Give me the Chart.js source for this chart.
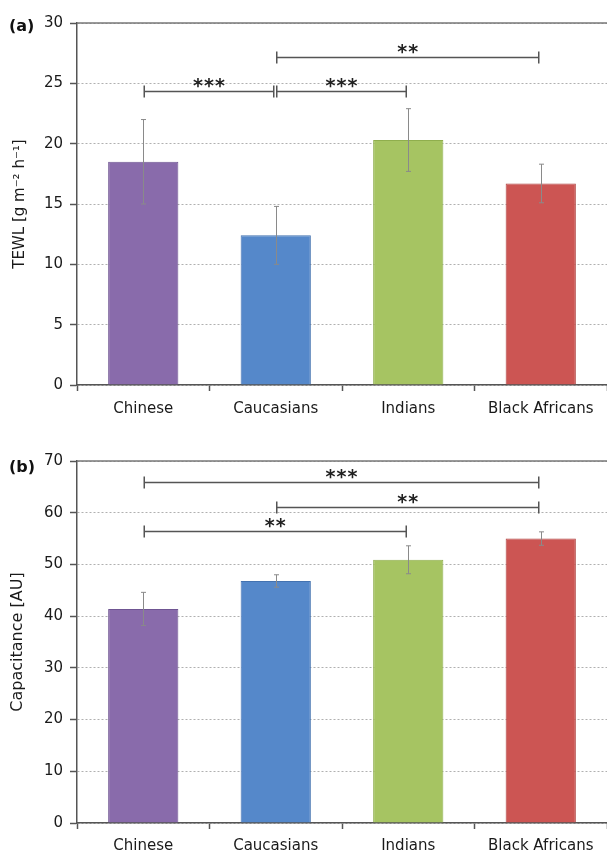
<!DOCTYPE html>
<html>
<head>
<meta charset="utf-8">
<script src="https://cdn.jsdelivr.net/npm/chart.js@4.4.0/dist/chart.umd.min.js"></script>
<style>
  html, body { margin: 0; padding: 0; background: #fff; }
  .wrap { position: absolute; left: 0; width: 607px; }
  #wrapA { top: 0; height: 427px; }
  #wrapB { top: 427px; height: 428px; }
</style>
</head>
<body>
<div class="wrap" id="wrapA"><canvas id="chartA"></canvas></div>
<div class="wrap" id="wrapB"><canvas id="chartB"></canvas></div>
<script>
// data
const categories = ['Chinese', 'Caucasians', 'Indians', 'Black Africans'];

const tewlMean = [18.5, 12.4, 20.3, 16.7];
const tewlSd = [3.5, 2.4, 2.6, 1.6];
// [from, to, level, stars]
const tewlSig = [[0, 1, 24.4, '***'], [1, 2, 24.4, '***'], [1, 3, 27.2, '**']];

const capMean = [41.4, 46.8, 50.9, 55.0];
const capSd = [3.2, 1.2, 2.7, 1.3];
const capSig = [[0, 3, 66.0, '***'], [1, 3, 61.2, '**'], [0, 2, 56.5, '**']];

const barColors = ['#896bab', '#5588ca', '#a6c462', '#cc5553'];
const barBorders = ['#6f5592', '#4372b0', '#8fae4d', '#b04341'];

const FONT = '"DejaVu Sans", sans-serif';

// error bars, brackets, panel letter, top border
const extras = {
  id: 'extras',
  afterDatasetsDraw(chart, args, o) {
    const ctx = chart.ctx;
    const y = chart.scales.y;
    const meta = chart.getDatasetMeta(0);
    ctx.save();
    ctx.strokeStyle = '#8a8a8a';
    ctx.lineWidth = 1;
    meta.data.forEach((bar, i) => {
      const x = Math.round(bar.x) + 0.5;
      const top = y.getPixelForValue(o.mean[i] + o.sd[i]);
      const bot = y.getPixelForValue(o.mean[i] - o.sd[i]);
      ctx.beginPath();
      ctx.moveTo(x, top); ctx.lineTo(x, bot);
      ctx.moveTo(x - 2.5, top); ctx.lineTo(x + 2.5, top);
      ctx.moveTo(x - 2.5, bot); ctx.lineTo(x + 2.5, bot);
      ctx.stroke();
    });
    ctx.restore();
  },
  afterDraw(chart, args, o) {
    const ctx = chart.ctx;
    const y = chart.scales.y;
    const area = chart.chartArea;
    const meta = chart.getDatasetMeta(0);
    ctx.save();
    // top border
    ctx.strokeStyle = '#777';
    ctx.lineWidth = 1.5;
    ctx.beginPath();
    ctx.moveTo(area.left, area.top); ctx.lineTo(area.right, area.top);
    ctx.stroke();

    // significance brackets
    ctx.strokeStyle = '#555';
    ctx.lineWidth = 1.5;
    ctx.fillStyle = '#222';
    ctx.font = 'bold 19px "DejaVu Sans"';
    ctx.textAlign = 'center';
    ctx.textBaseline = 'alphabetic';
    const m = ctx.measureText('*');
    const shift = (m.actualBoundingBoxAscent - m.actualBoundingBoxDescent) / 2;
    o.sig.forEach(s => {
      const x1 = meta.data[s[0]].x + 1;
      const x2 = meta.data[s[1]].x - 2;
      const ly = Math.round(y.getPixelForValue(s[2])) + 0.5;
      ctx.beginPath();
      ctx.moveTo(x1, ly); ctx.lineTo(x2, ly);
      ctx.moveTo(x1, ly - 6); ctx.lineTo(x1, ly + 6);
      ctx.moveTo(x2, ly - 6); ctx.lineTo(x2, ly + 6);
      ctx.stroke();
      const n = s[3].length;
      const cx = (x1 + x2) / 2;
      for (let k = 0; k < n; k++) {
        ctx.fillText('*', cx + (k - (n - 1) / 2) * 11, ly - 9 + shift);
      }
    });

    // panel letter
    ctx.font = 'bold 16px "DejaVu Sans"';
    ctx.textAlign = 'left';
    ctx.fillStyle = '#111';
    ctx.fillText(o.letter, 9, o.letterY);
    ctx.restore();
  }
};

function makeChart(id, mean, sd, sig, opts) {
  return new Chart(document.getElementById(id), {
    type: 'bar',
    data: {
      labels: categories,
      datasets: [{
        data: mean,
        backgroundColor: barColors,
        borderColor: barBorders,
        borderWidth: 1,
        categoryPercentage: 1,
        barPercentage: 0.53
      }]
    },
    options: {
      responsive: true,
      maintainAspectRatio: false,
      animation: false,
      layout: { padding: { top: opts.padTop, left: 0, right: 0, bottom: 0 } },
      plugins: {
        legend: { display: false },
        tooltip: { enabled: false },
        extras: { mean: mean, sd: sd, sig: sig, letter: opts.letter, letterY: opts.letterY }
      },
      scales: {
        x: {
          offset: true,
          grid: { drawOnChartArea: false, offset: true, tickLength: 6, tickColor: '#555', tickWidth: 1.5 },
          border: { color: '#555', width: 1.5 },
          ticks: { color: '#1a1a1a', padding: opts.xPad, font: { family: FONT, size: 15 } },
          afterFit: s => { s.height = opts.xHeight; }
        },
        y: {
          min: 0,
          max: opts.max,
          ticks: { stepSize: opts.step, color: '#1a1a1a', padding: 7, font: { family: FONT, size: 15 } },
          grid: { color: '#b0b0b0', lineWidth: 1, tickLength: 7, tickColor: '#555', tickWidth: 1.5, tickBorderDash: [] },
          border: { color: '#555', width: 1.5, dash: [2, 2] },
          title: {
            display: true,
            text: opts.title,
            color: '#1a1a1a',
            font: { family: FONT, size: opts.titleSize },
            padding: { top: opts.titlePad, bottom: 0 }
          },
          afterFit: s => { s.width = 77; }
        }
      }
    },
    plugins: [extras]
  });
}

makeChart('chartA', tewlMean, tewlSd, tewlSig, {
  padTop: 23, xHeight: 42, xPad: 9, max: 30, step: 5, titleSize: 15,
  title: 'TEWL [g m\u207B\u00B2 h\u207B\u00B9]', titlePad: 11, letter: '(a)', letterY: 31
});

makeChart('chartB', capMean, capSd, capSig, {
  padTop: 34, xHeight: 32, xPad: 8, max: 70, step: 10, titleSize: 16,
  title: 'Capacitance [AU]', titlePad: 8, letter: '(b)', letterY: 45
});
</script>
</body>
</html>
